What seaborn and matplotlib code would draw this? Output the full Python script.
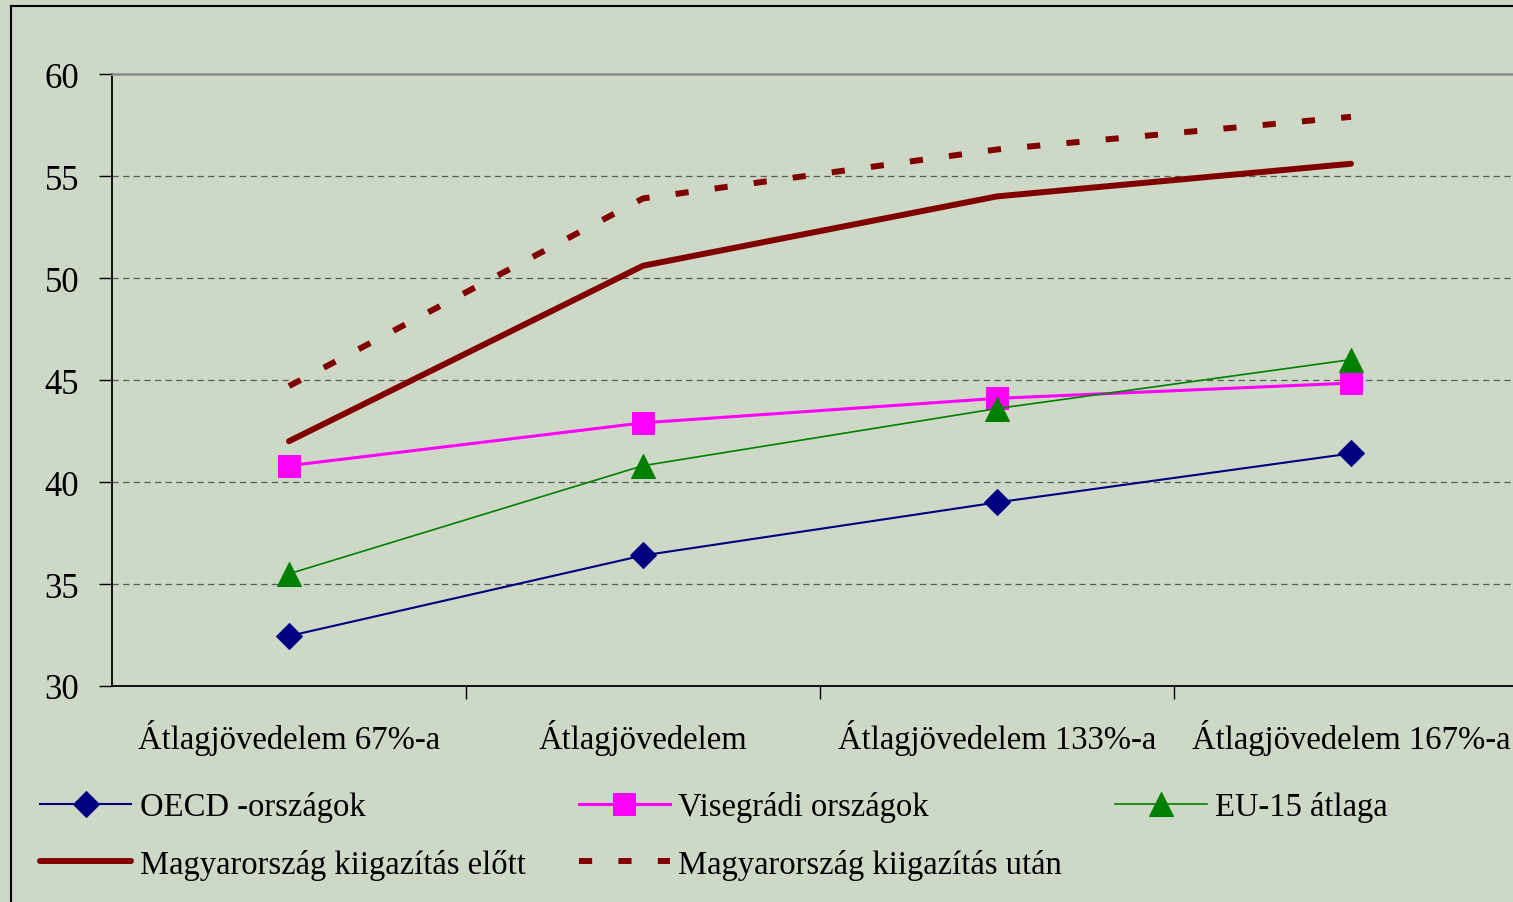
import matplotlib
matplotlib.use("Agg")
import matplotlib.pyplot as plt
from matplotlib.lines import Line2D
import numpy as np
import pandas as pd
import seaborn as sns

# Income levels (categories on the x axis)
categories = ["Átlagjövedelem 67%-a", "Átlagjövedelem",
              "Átlagjövedelem 133%-a", "Átlagjövedelem 167%-a"]

# Tax wedge values per group
oecd = [32.45, 36.4, 39.0, 41.4]
visegrad = [40.8, 42.9, 44.1, 44.85]
eu15 = [35.5, 40.8, 43.6, 46.0]
hu_before = [42.0, 50.6, 54.0, 55.6]
hu_after = [44.7, 53.9, 56.3, 57.9]

series_names = ["OECD -országok", "Visegrádi országok", "EU-15 átlaga",
                "Magyarország kiigazítás előtt", "Magyarország kiigazítás után"]

y_ticks = [30, 35, 40, 45, 50, 55, 60]

bg = "#cdd8c6"
plt.rcParams["font.family"] = ["Liberation Serif", "DejaVu Serif"]
plt.rcParams["font.size"] = 23.5

W, H = 1513, 903
fig = plt.figure(figsize=(W / 100, H / 100), dpi=100, facecolor=bg)
ax = fig.add_axes([112 / W, 1 - 687 / H, (1528 - 112) / W, (687 - 75) / H])
ax.set_facecolor(bg)

def frame(vals):
    return pd.DataFrame({"cat": categories, "val": vals})

styles = [
    (oecd, dict(color="#000080", lw=1.5, marker="D", ms=13, mec="#000080")),
    (visegrad, dict(color="#ff00ff", lw=2.2, marker="s", ms=15.5, mec="#ff00ff")),
    (eu15, dict(color="#008000", lw=1.2, marker="^", ms=17, mec="#008000")),
    (hu_before, dict(color="#800000", lw=4.3, solid_capstyle="round")),
    (hu_after, dict(color="#800000", lw=4.3, dashes=(2.2, 4.4), dash_capstyle="butt")),
]

handles = []
for (vals, kw), name in zip(styles, series_names):
    sns.lineplot(data=frame(vals), x="cat", y="val", ax=ax, sort=False,
                 legend=False, **kw)
    handles.append(ax.lines[-1])

ax.set_xlim(-0.5, 3.5)
ax.set_ylim(30, 60)
ax.set_yticks(y_ticks)
ax.set_xlabel("")
ax.set_ylabel("")

# horizontal dashed grid lines
for y in y_ticks[1:-1]:
    ax.axhline(y, color="#5a5a5a", lw=0.9, dashes=(5, 3.5), zorder=0.5)

for s in ["left", "bottom"]:
    ax.spines[s].set_color("black")
    ax.spines[s].set_linewidth(1.3)
ax.spines["top"].set_color("#8a8a8a")
ax.spines["top"].set_linewidth(1.8)
ax.spines["right"].set_visible(False)

ax.tick_params(axis="y", direction="out", length=9.5, width=1.0, pad=14,
               colors="black", labelsize=25)
ax.tick_params(axis="x", which="major", length=0, pad=24, labelsize=23.5)
ax.set_xticks([0.5, 1.5, 2.5, 3.5], minor=True)
ax.tick_params(axis="x", which="minor", direction="out", length=9.5, width=1.0)

# legend: row-major order across three columns
order = [0, 3, 1, 4, 2]
leg = fig.legend([handles[i] for i in order], [series_names[i] for i in order],
                 ncol=3, loc="upper left",
                 bbox_to_anchor=(40 / W, 1 - 792 / H),
                 frameon=False, borderpad=0, borderaxespad=0,
                 handlelength=2.8, handletextpad=0.25, columnspacing=1.63,
                 labelspacing=0.82, fontsize=23.5)

# outer frame lines
fig.add_artist(Line2D([11 / W, 11 / W], [0, 1 - 7 / H], color="black", lw=1.5,
                      transform=fig.transFigure))
fig.add_artist(Line2D([11 / W, 1], [1 - 7 / H, 1 - 7 / H], color="black", lw=1.5,
                      transform=fig.transFigure))

fig.savefig("out.png", dpi=100, facecolor=bg)
